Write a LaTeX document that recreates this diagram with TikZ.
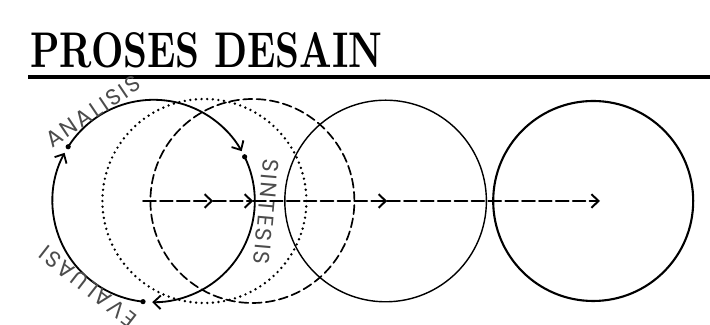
\documentclass[tikz,border=0pt]{standalone}
\usepackage{graphicx}
\usepackage{fontspec}
\setsansfont[LetterSpace=10]{Poppins}
\usetikzlibrary{arrows.meta,calc}

\tikzset{
    lbl/.style={font=\sffamily\fontsize{16}{16}\selectfont, text=black!70, inner sep=0pt},
    axis/.style={line width=1.4pt, dash pattern=on 9pt off 3pt},
    dot/.style={fill=black},
}

\begin{document}
\begin{tikzpicture}[>={Straight Barb[length=1.8mm,width=3.4mm]}, line cap=round]
    \useasboundingbox (0,0) rectangle (17.75,8.125);

    % Title
    \node[anchor=south west, inner sep=0pt] (title) at (0.75,6.425)
        {\resizebox{8.8cm}{0.875cm}{\bfseries PROSES DESAIN}};
    \draw[line width=2.4pt, line cap=butt] (0.7,6.2) -- (17.75,6.2);

    % Centres
    \coordinate (c1) at (3.84,3.1);
    \coordinate (c2) at (5.11,3.1);
    \coordinate (c3) at (6.31,3.1);
    \coordinate (c4) at (9.64,3.1);
    \coordinate (c5) at (14.83,3.1);

    % Circles
    \draw[line width=1.9pt, dash pattern=on 0pt off 4pt] (c2) circle (2.55);
    \draw[line width=1.2pt, dash pattern=on 6.5pt off 3pt] (c3) circle (2.55);
    \draw[line width=1pt] (c4) circle (2.52);
    \draw[line width=1.5pt] (c5) circle (2.5);

    % Cycle on the first circle
    \draw[->, line width=1.3pt] ([shift={(147.6:2.53)}]c1) arc[start angle=147.6, end angle=29.5, radius=2.53];
    \draw[->, line width=1.3pt] ([shift={(25.9:2.53)}]c1) arc[start angle=25.9, end angle=-90.8, radius=2.53];
    \draw[->, line width=1.3pt] ([shift={(-96:2.53)}]c1) arc[start angle=-96, end angle=-208.4, radius=2.53];
    \fill[dot] ([shift={(147.6:2.53)}]c1) circle (0.065);
    \fill[dot] ([shift={(25.9:2.53)}]c1) circle (0.065);
    \fill[dot] ([shift={(-96:2.53)}]c1) circle (0.065);

    % Labels
    \node[lbl, rotate=34] (ana) at ([shift={(124:2.7)}]c1) {ANALISIS};
    \node[lbl, rotate=-95] (sin) at ([shift={(-5.6:2.83)}]c1) {SINTESIS};
    \node[lbl, rotate=142] (eva) at ([shift={(-127.6:2.7)}]c1) {EVALUASI};

    % Axis
    \coordinate (a0) at (3.58,3.1);
    \coordinate (a1) at (5.33,3.1);
    \coordinate (a2) at (6.33,3.1);
    \coordinate (a3) at (9.68,3.1);
    \coordinate (a4) at (15.0,3.1);
    \draw[axis, ->] (a0) -- (a1);
    \draw[axis, ->] (a1) -- (a2);
    \draw[axis, ->] (a2) -- (a3);
    \draw[axis, ->] (a3) -- (a4);
\end{tikzpicture}
\end{document}
